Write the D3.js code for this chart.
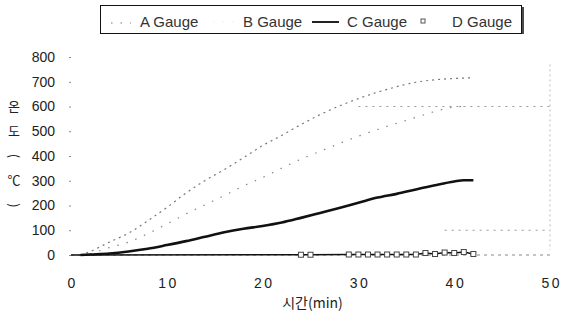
<!DOCTYPE html>
<html>
<head>
<meta charset="utf-8">
<script src="https://cdn.jsdelivr.net/npm/d3@7"></script>
<style>
  body { margin: 0; background: #fff; }
  svg { display: block; }
</style>
</head>
<body>
<div id="chart"></div>
<script>
// time (min) / temperature (°C)
var aTime = [1, 2, 4, 6, 8, 10, 12, 14, 16, 18, 20, 22, 24, 26, 28, 30, 32, 34, 36, 38, 40, 42];
var aVal  = [0, 14, 52, 88, 138, 192, 250, 301, 345, 393, 442, 483, 527, 567, 602, 632, 658, 680, 698, 708, 713, 716];

var bTime = [1, 2, 4, 6, 8, 10, 12, 14, 16, 18, 20, 22, 24, 26, 28, 30, 32, 34, 36, 38, 40, 41];
var bVal  = [0, 6, 30, 52, 86, 125, 166, 203, 240, 279, 313, 351, 387, 419, 450, 480, 507, 532, 556, 580, 598, 600];

var cTime = [1, 2, 4, 6, 8, 10, 12, 14, 16, 18, 20, 22, 24, 26, 28, 30, 32, 34, 36, 38, 40, 41, 42];
var cVal  = [0, 2, 6, 14, 25, 40, 56, 74, 92, 106, 117, 131, 150, 170, 190, 211, 232, 247, 265, 282, 297, 302, 302];

var dTime = [0, 24, 25, 29, 30, 31, 32, 33, 34, 35, 36, 37, 38, 39, 40, 41, 42];
var dVal  = [0, 1, 1, 2, 2, 2, 2, 2, 2, 2, 2, 8, 4, 10, 8, 12, 4];

var seriesNames = ["A Gauge", "B Gauge", "C Gauge", "D Gauge"];
var xTicks = [0, 10, 20, 30, 40, 50];
var yTicks = [0, 100, 200, 300, 400, 500, 600, 700, 800];
var yTitleChars = ["온", "도", "(", "℃", ")"];
var xTitle = "시간(min)";

// faint grid pieces that survived in the scan: [value, from min, to min]
var gridBits = [[600, 30, 50], [100, 39, 50]];

var W = 562, H = 322;
var svg = d3.select("#chart").append("svg").attr("width", W).attr("height", H);

var x = d3.scaleLinear().domain([0, 50]).range([71, 550]);
var y = d3.scaleLinear().domain([0, 800]).range([255, 57]);

var latin = "'Liberation Sans', Arial, sans-serif";
var hangul = "'Noto Sans CJK KR', sans-serif";

// right border and grid leftovers
svg.append("line")
    .attr("x1", x(50)).attr("x2", x(50))
    .attr("y1", y(770)).attr("y2", y(20))
    .attr("stroke", "#bbb").attr("stroke-dasharray", "2 3");
svg.selectAll(".gbit").data(gridBits).enter().append("line")
    .attr("class", "gbit")
    .attr("x1", d => x(d[1])).attr("x2", d => x(d[2]))
    .attr("y1", d => y(d[0])).attr("y2", d => y(d[0]))
    .attr("stroke", "#999").attr("stroke-dasharray", "2 5");

// x axis baseline (dotted past the data)
svg.append("line")
    .attr("x1", x(0)).attr("x2", x(50))
    .attr("y1", y(0)).attr("y2", y(0))
    .attr("stroke", "#888").attr("stroke-dasharray", "3 4");

// axes
var gx = svg.append("g").attr("transform", "translate(0," + y(0) + ")")
    .call(d3.axisBottom(x).tickValues(xTicks).tickSize(0).tickPadding(23));
gx.select(".domain").remove();
gx.selectAll("text")
    .attr("font-family", latin).attr("font-size", 14)
    .attr("letter-spacing", "2.5px").attr("dx", 1.2)
    .attr("fill", "#222");

var gy = svg.append("g").attr("transform", "translate(" + x(0) + ",0)")
    .call(d3.axisLeft(y).tickValues(yTicks).tickSize(2).tickPadding(14));
gy.select(".domain").remove();
gy.selectAll(".tick line").attr("stroke", "#888");
gy.selectAll("text")
    .attr("font-family", latin).attr("font-size", 14)
    .attr("fill", "#222");

// titles
svg.append("text")
    .attr("x", (x(0) + x(50)) / 2 + 2).attr("y", 308)
    .attr("text-anchor", "middle")
    .attr("font-family", hangul).attr("font-size", 14)
    .attr("fill", "#222")
    .text(xTitle);

// y title is stacked one glyph per row, brackets turned on their side
svg.selectAll(".ytitle").data(yTitleChars).enter().append("text")
    .attr("class", "ytitle")
    .attr("transform", (d, i) => {
        var ty = y(600 - i * 100);
        return "translate(14," + ty + ")" + (d == "(" || d == ")" ? " rotate(90)" : "");
    })
    .attr("dy", "0.36em")
    .attr("text-anchor", "middle")
    .attr("font-family", hangul).attr("font-size", 13)
    .attr("fill", "#222")
    .text(d => d);

// series
var line = d3.line().x(d => x(d[0])).y(d => y(d[1])).curve(d3.curveMonotoneX);
var pts = (t, v) => t.map((d, i) => [d, v[i]]);

svg.append("path").datum(pts(aTime, aVal))
    .attr("d", line).attr("fill", "none")
    .attr("stroke", "#777").attr("stroke-width", 1.2)
    .attr("stroke-dasharray", "2 4");

svg.append("path").datum(pts(bTime, bVal))
    .attr("d", line).attr("fill", "none")
    .attr("stroke", "#888").attr("stroke-width", 1.2)
    .attr("stroke-dasharray", "1.5 8");

svg.append("path").datum(pts(cTime, cVal))
    .attr("d", line).attr("fill", "none")
    .attr("stroke", "#111").attr("stroke-width", 2.6);

var dPts = pts(dTime, dVal);
svg.append("path").datum(dPts)
    .attr("d", d3.line().x(d => x(d[0])).y(d => y(d[1])))
    .attr("fill", "none").attr("stroke", "#111").attr("stroke-width", 1.5);
svg.selectAll(".dmark").data(dPts.filter(d => d[0] > 0)).enter().append("rect")
    .attr("class", "dmark")
    .attr("x", d => x(d[0]) - 2.5).attr("y", d => y(d[1]) - 2.5)
    .attr("width", 5).attr("height", 5)
    .attr("fill", "#fff").attr("stroke", "#444").attr("stroke-width", 1);

// legend
var lg = svg.append("g");
lg.append("line").attr("x1", 523).attr("x2", 523).attr("y1", 7).attr("y2", 34)
    .attr("stroke", "#111").attr("stroke-width", 1.5);
lg.append("rect").attr("x", 100.5).attr("y", 5.5).attr("width", 421).attr("height", 28)
    .attr("fill", "#fff").attr("stroke", "#111").attr("stroke-width", 1);

var legX = [140, 243, 347, 452];
lg.selectAll(".ltxt").data(seriesNames).enter().append("text")
    .attr("class", "ltxt")
    .attr("x", (d, i) => legX[i]).attr("y", 27)
    .attr("font-family", latin).attr("font-size", 15)
    .attr("fill", "#333")
    .text(d => d);

lg.append("line").attr("x1", 111).attr("x2", 131).attr("y1", 23).attr("y2", 23)
    .attr("stroke", "#777").attr("stroke-width", 1.2).attr("stroke-dasharray", "1.5 8");
lg.append("line").attr("x1", 213).attr("x2", 235).attr("y1", 22).attr("y2", 22)
    .attr("stroke", "#eee").attr("stroke-width", 1).attr("stroke-dasharray", "1.5 8");
lg.append("line").attr("x1", 312).attr("x2", 339).attr("y1", 22).attr("y2", 22)
    .attr("stroke", "#222").attr("stroke-width", 2);
lg.append("rect").attr("x", 421).attr("y", 19).attr("width", 4).attr("height", 4)
    .attr("fill", "#fff").attr("stroke", "#555").attr("stroke-width", 1);
</script>
</body>
</html>
